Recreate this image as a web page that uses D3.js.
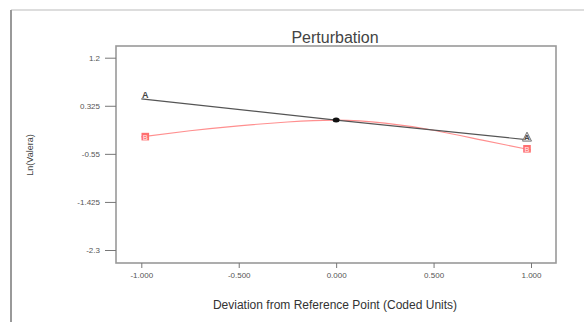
<!DOCTYPE html>
<html>
<head>
<meta charset="utf-8">
<title>Perturbation</title>
<script src="https://cdn.jsdelivr.net/npm/d3@7"></script>
<style>
  body { margin: 0; background: #fff; }
  .axis text { font-family: "Liberation Sans", Arial, sans-serif; font-size: 8px; fill: #555; }
  .axis path, .axis line { stroke: #777; }
</style>
</head>
<body>
<script>
// data
var xTicks = [-1, -0.5, 0, 0.5, 1];
var xTickLabels = ["-1.000", "-0.500", "0.000", "0.500", "1.000"];
var yTicks = [1.2, 0.325, -0.55, -1.425, -2.3];
var yTickLabels = ["1.2", "0.325", "-0.55", "-1.425", "-2.3"];

// factor A (straight) and factor B (curved)
var devA = [-1, 0, 1];
var valA = [0.45, 0.065, -0.30];
var devB = [-1, -0.75, -0.5, -0.25, 0, 0.25, 0.5, 0.75, 1];
var valB = [-0.24, -0.13, -0.04, 0.03, 0.065, 0.01, -0.12, -0.30, -0.48];

var refPoint = [0, 0.065];

var width = 584, height = 322;
var svg = d3.select("body").append("svg")
    .attr("width", width)
    .attr("height", height);

// outer frame of the screenshot
svg.append("line").attr("x1", 11).attr("x2", width).attr("y1", 10).attr("y2", 10)
    .attr("stroke", "#ddd").attr("stroke-width", 2);
svg.append("line").attr("x1", 11).attr("x2", 11).attr("y1", 10).attr("y2", height)
    .attr("stroke", "#999").attr("stroke-width", 2);

// plot box
var box = {left: 116, top: 46, right: 556, bottom: 263};

var x = d3.scaleLinear().domain([-1, 1]).range([141.3, 531]);
var y = d3.scaleLinear().domain([-2.3, 1.2]).range([250, 57.7]);

svg.append("rect")
    .attr("x", box.left).attr("y", box.top)
    .attr("width", box.right - box.left).attr("height", box.bottom - box.top)
    .attr("fill", "none").attr("stroke", "#999").attr("stroke-width", 1.6);

// y axis
var yAxis = d3.axisLeft(y).tickValues(yTicks).tickSize(11).tickPadding(5)
    .tickFormat(function(d, i){ return yTickLabels[i]; });
var gy = svg.append("g").attr("class", "axis")
    .attr("transform", "translate(" + box.left + ",0)")
    .call(yAxis);
gy.select(".domain").remove();

// x axis
var xAxis = d3.axisBottom(x).tickValues(xTicks).tickSize(5).tickPadding(4)
    .tickFormat(function(d, i){ return xTickLabels[i]; });
var gx = svg.append("g").attr("class", "axis")
    .attr("transform", "translate(0," + box.bottom + ")")
    .call(xAxis);
gx.select(".domain").remove();

// titles
var fontF = "Liberation Sans, Arial, sans-serif";
svg.append("text")
    .attr("x", 335).attr("y", 43)
    .attr("text-anchor", "middle")
    .style("font-family", fontF)
    .style("font-size", "16px")
    .attr("fill", "#444")
    .text("Perturbation");

svg.append("text")
    .attr("x", 335).attr("y", 309)
    .attr("text-anchor", "middle")
    .style("font-family", fontF)
    .style("font-size", "12px")
    .attr("fill", "#333")
    .text("Deviation from Reference Point (Coded Units)");

svg.append("text")
    .attr("transform", "translate(33,155) rotate(-90)")
    .attr("text-anchor", "middle")
    .style("font-family", fontF)
    .style("font-size", "9px")
    .attr("fill", "#444")
    .text("Ln(Valera)");

// lines
var lineA = d3.line()
    .x(function(d, i){ return x(devA[i]); })
    .y(function(d){ return y(d); });
var lineB = d3.line()
    .x(function(d, i){ return x(devB[i]); })
    .y(function(d){ return y(d); })
    .curve(d3.curveNatural);

svg.append("path").attr("d", lineB(valB))
    .attr("fill", "none").attr("stroke", "#ff8f8f").attr("stroke-width", 1.2);
svg.append("path").attr("d", lineA(valA))
    .attr("fill", "none").attr("stroke", "#555").attr("stroke-width", 1.2);

// reference point
svg.append("ellipse")
    .attr("cx", x(refPoint[0])).attr("cy", y(refPoint[1]))
    .attr("rx", 3.5).attr("ry", 2.5).attr("fill", "#111");

// end labels
var aFirst = valA[0], aLast = valA[valA.length - 1];
var bFirst = valB[0], bLast = valB[valB.length - 1];

// A at the left end: letter only
svg.append("text")
    .attr("x", x(-1) + 4).attr("y", y(aFirst) - 1)
    .attr("text-anchor", "middle")
    .style("font-family", fontF).style("font-size", "9px").style("font-weight", "bold")
    .attr("fill", "#444").text("A");

// A at the right end: triangle with letter
var ax = x(1) - 4, ay = y(aLast) - 3;
svg.append("path")
    .attr("d", "M" + ax + "," + (ay - 5) + "L" + (ax + 4.5) + "," + (ay + 4) + "L" + (ax - 4.5) + "," + (ay + 4) + "Z")
    .attr("fill", "#eee").attr("stroke", "#777").attr("stroke-width", 1);
svg.append("text")
    .attr("x", ax).attr("y", ay + 3)
    .attr("text-anchor", "middle")
    .style("font-family", fontF).style("font-size", "8px").style("font-weight", "bold")
    .attr("fill", "#444").text("A");

// B squares at both ends
[[x(-1) + 4, y(bFirst)], [x(1) - 4, y(bLast) - 1]].forEach(function(p){
    svg.append("rect")
        .attr("x", p[0] - 3.8).attr("y", p[1] - 4)
        .attr("width", 7.6).attr("height", 7.6)
        .attr("fill", "#ff6f6f");
    svg.append("text")
        .attr("x", p[0]).attr("y", p[1] + 2.8)
        .attr("text-anchor", "middle")
        .style("font-family", fontF).style("font-size", "7px").style("font-weight", "bold")
        .attr("fill", "#ffd0d0").text("B");
});
</script>
</body>
</html>
